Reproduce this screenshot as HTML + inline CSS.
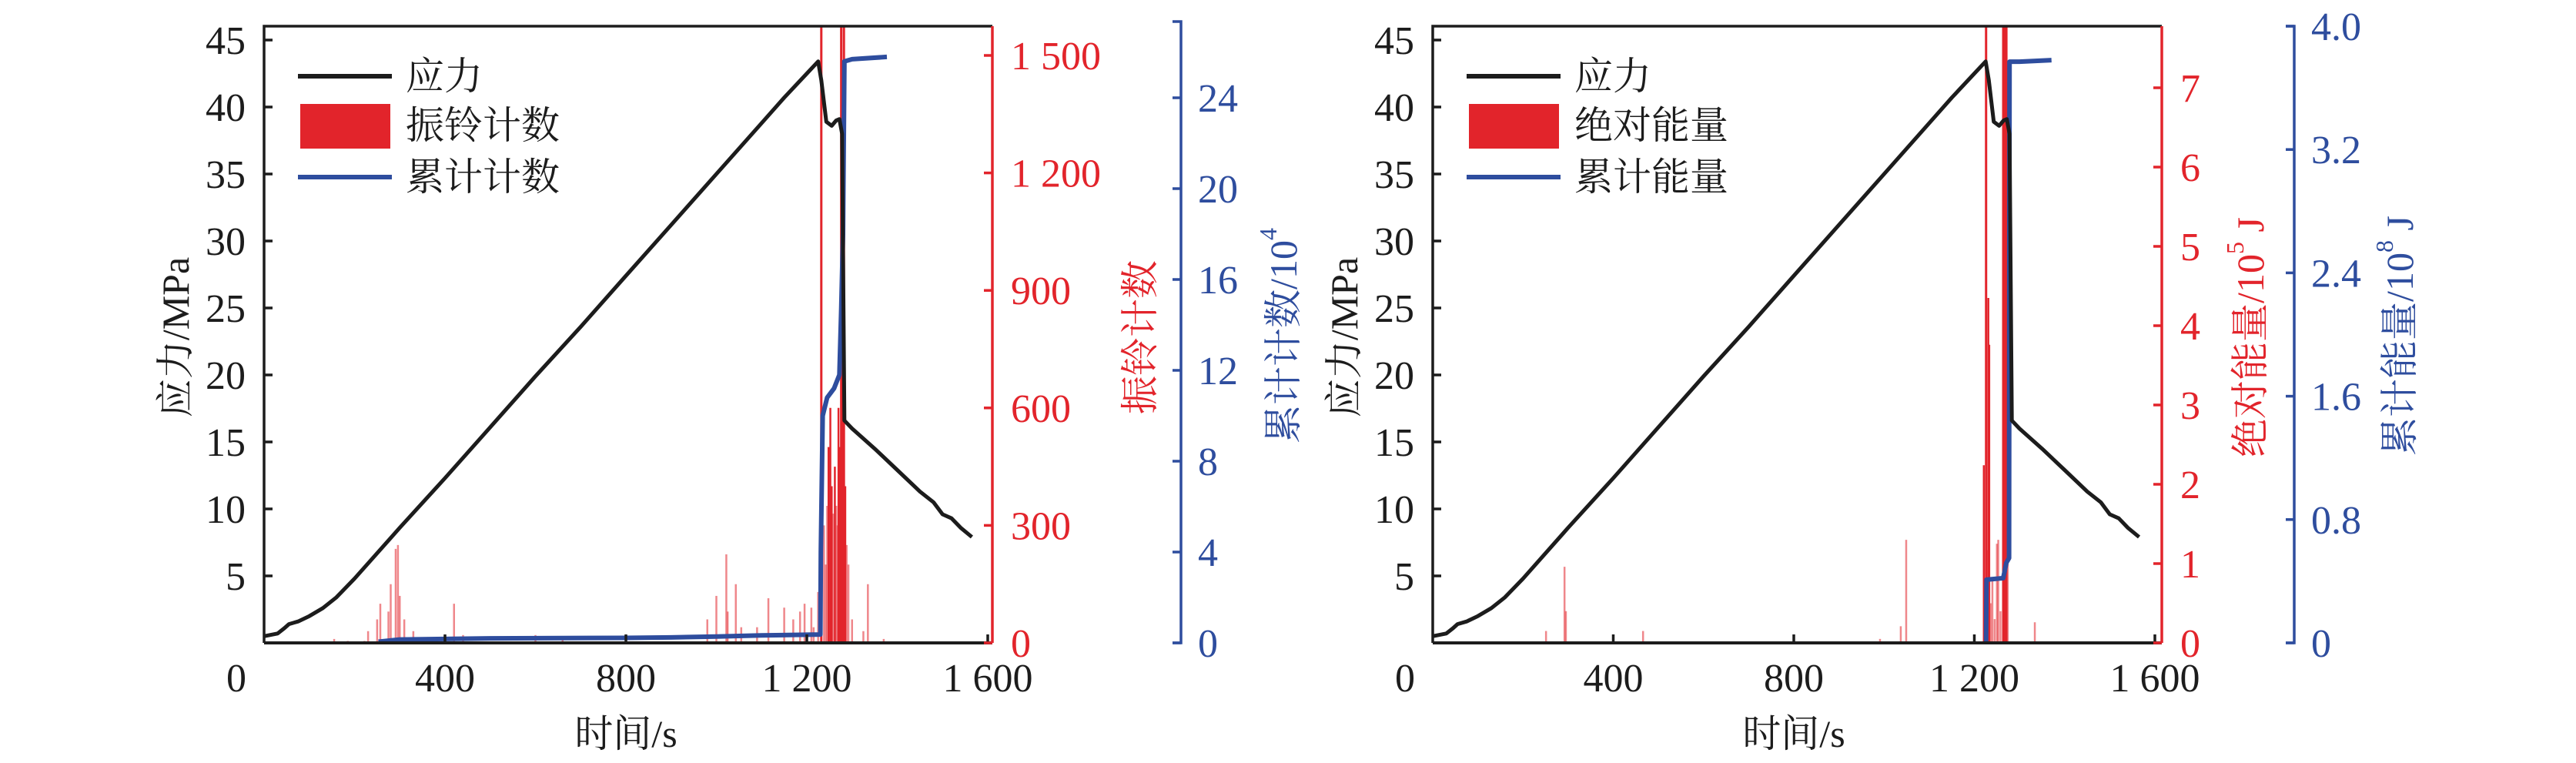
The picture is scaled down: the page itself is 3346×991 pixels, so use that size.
<!DOCTYPE html>
<html><head><meta charset="utf-8"><style>
html,body{margin:0;padding:0;background:#fff;}
svg{display:block;}
text{font-family:"Liberation Serif","Noto Serif CJK SC","Noto Sans CJK SC",serif;}
</style></head><body>
<svg id="chart" width="3346" height="991" viewBox="0 0 3346 991" xmlns="http://www.w3.org/2000/svg"></svg>
<script>
// ---- shared data ----
const stressTime = [0,15,30,45,55,75,100,130,160,200,300,400,500,600,700,800,900,1000,1100,1150,1200,1225,1232,1243,1255,1265,1272,1278,1283,1300,1350,1400,1450,1480,1500,1520,1540,1565];
const stressValue = [0.5,0.6,0.7,1.1,1.4,1.6,2.0,2.6,3.4,4.8,8.6,12.3,16.1,19.9,23.6,27.4,31.2,35.0,38.8,40.7,42.5,43.4,42.0,38.9,38.6,39.0,39.1,38.0,16.6,16.0,14.5,12.9,11.3,10.5,9.6,9.3,8.6,7.9];
// left panel: ring counts & cumulative counts (10^4)
const ringTime = [155,185,222,230,250,257,275,280,291,296,300,310,330,420,440,600,660,800,980,1000,1022,1025,1043,1055,1090,1115,1150,1170,1185,1195,1210,1215,1225,1232,1238,1242,1245,1248,1252,1255,1258,1262,1265,1268,1270,1273,1276,1278,1282,1285,1288,1292,1300,1325,1335,1370];
const ringValue = [10,5,5,30,60,100,80,150,240,250,120,60,30,100,20,20,10,15,60,120,226,80,150,40,40,114,90,60,80,100,90,40,130,1600,300,200,350,500,600,400,330,450,350,300,600,500,1600,700,1600,400,250,200,60,30,150,10];
const cumCountTime = [253,300,500,800,900,1000,1100,1200,1230,1231,1235,1245,1260,1272,1276,1280,1283,1300,1377];
const cumCountValue = [0.05,0.15,0.2,0.22,0.24,0.28,0.33,0.36,0.37,4.0,10.0,10.8,11.2,11.8,14.7,18.0,25.6,25.7,25.8];
// right panel: absolute energy (10^5 J) & cumulative energy (10^8 J)
const energyTime = [251,292,295,466,991,1037,1049,1221,1226,1229,1231,1233,1236,1240,1245,1250,1253,1258,1264,1268,1271,1274,1334];
const energyValue = [0.15,0.96,0.4,0.15,0.05,0.21,1.3,2.24,7.8,1.17,4.35,3.76,0.5,0.8,0.3,1.25,1.3,0.4,7.8,7.8,7.8,1.0,0.26];
const cumEnergyTime = [1226,1227,1264,1271,1277,1278,1300,1371];
const cumEnergyValue = [0,0.41,0.42,0.52,0.55,3.77,3.77,3.78];
// tick labels
const xTicks = [400,800,1200,1600];
const stressTicks = [5,10,15,20,25,30,35,40,45];
const ringTicks = [0,300,600,900,1200,1500];
const ringTickLabels = ["0","300","600","900","1 200","1 500"];
const cumCountTicks = [0,4,8,12,16,20,24];
const energyTicks = [0,1,2,3,4,5,6,7];
const cumEnergyTicks = [0,0.8,1.6,2.4,3.2,4.0];
const cumEnergyTickLabels = ["0","0.8","1.6","2.4","3.2","4.0"];

const NS = "http://www.w3.org/2000/svg";
const svg = document.getElementById('chart');
function mk(tag, attrs, parent){ const e=document.createElementNS(NS,tag); for(const k in attrs) e.setAttribute(k,attrs[k]); (parent||svg).appendChild(e); return e; }
const BLACK="#1c1c1c", RED="#e2242b", BLUE="#2e4d9e", FS=52;

function panel(p){
  const g = mk('g',{});
  
  
  const X = t => p.x0 + t*(p.x1600-p.x0)/1600;
  const YS = v => p.yb - v*p.stressPx;
  const YR = v => p.yb - v*(p.yb-p.redTopY)/p.redTopV;
  const YB = v => p.yb - v*(p.yb-p.blueTopY)/p.blueTopV;

  const bars = mk('g',{},g);
  
  
  p.barT.forEach((t,i)=>{
    const v=p.barV[i]; let y=Math.max(YR(v), p.top);
    const l=mk('line',{x1:X(t),x2:X(t),y1:p.yb,y2:y,stroke: v>p.redTopV*0.25? RED : 'rgba(226,36,43,0.55)','stroke-width': v>=p.redTopV? 3 : 2.5},bars);
    
    
  });
  let d=''; p.cumT.forEach((t,i)=>{ d+=(i?'L':'M')+X(t).toFixed(1)+','+YB(p.cumV[i]).toFixed(1); });
  const bl=mk('path',{d:d,fill:'none',stroke:BLUE,'stroke-width':6,'stroke-linejoin':'round'},g);
  
  
  d=''; stressTime.forEach((t,i)=>{ d+=(i?'L':'M')+X(t).toFixed(1)+','+YS(stressValue[i]).toFixed(1); });
  const sl=mk('path',{d:d,fill:'none',stroke:BLACK,'stroke-width':5,'stroke-linejoin':'round'},g);
  
  

  mk('path',{d:`M${p.x0},${p.yb}V${p.top}H${p.xr}`,fill:'none',stroke:BLACK,'stroke-width':3.5},g);
  mk('line',{x1:p.x0,x2:p.xr,y1:p.yb,y2:p.yb,stroke:BLACK,'stroke-width':4},g);
  const ra=mk('line',{x1:p.xr,x2:p.xr,y1:p.top,y2:p.yb,stroke:RED,'stroke-width':3.5},g);
  
  
  const ba=mk('path',{d:`M${p.xb-11},${p.blueAxisTop}H${p.xb}V${p.yb}H${p.xb-11}`,fill:'none',stroke:BLUE,'stroke-width':3.5},g);
  
  

  xTicks.forEach(t=>{
    mk('line',{x1:X(t),x2:X(t),y1:p.yb,y2:p.yb-11,stroke:BLACK,'stroke-width':3.5},g);
    const tx=mk('text',{x:X(t),y:898,'text-anchor':'middle','font-size':FS,fill:BLACK},g); tx.textContent=(t>=1000? String(t).replace(/^(\d)/,'$1 '):String(t));
    
    
  });
  const z=mk('text',{x:p.x0-36,y:898,'text-anchor':'middle','font-size':FS,fill:BLACK},g); z.textContent='0';
  
  
  stressTicks.forEach(v=>{
    mk('line',{x1:p.x0,x2:p.x0+11,y1:YS(v),y2:YS(v),stroke:BLACK,'stroke-width':3.5},g);
    const tx=mk('text',{x:p.x0-24,y:YS(v)+18,'text-anchor':'end','font-size':FS,fill:BLACK},g); tx.textContent=v;
    
    
  });
  p.redTicks.forEach((v,i)=>{
    mk('line',{x1:p.xr-11,x2:p.xr,y1:YR(v),y2:YR(v),stroke:RED,'stroke-width':3.5},g);
    const tx=mk('text',{x:p.xr+24,y:YR(v)+18,'font-size':FS,fill:RED},g); tx.textContent=p.redLabels[i];
    
    
  });
  p.blueTicks.forEach((v,i)=>{
    mk('line',{x1:p.xb-11,x2:p.xb,y1:YB(v),y2:YB(v),stroke:BLUE,'stroke-width':3.5},g);
    const tx=mk('text',{x:p.xb+22,y:YB(v)+18,'font-size':FS,fill:BLUE},g); tx.textContent=p.blueLabels[i];
    
    
  });
  function rot(x,y,col,html,name){ const t=mk('text',{transform:`translate(${x},${y}) rotate(-90)`,'text-anchor':'middle','dominant-baseline':'central','font-size':50,fill:col},g); t.innerHTML=html;   }
  rot(p.x0-115,438,BLACK,'应力/MPa','y-axis-title-stress');
  rot(p.redTitleX,438,RED,p.redTitle,'y-axis-title-red');
  rot(p.blueTitleX,436,BLUE,p.blueTitle,'y-axis-title-blue');
  const xt=mk('text',{x:(p.x0+p.x1600)/2,y:970,'text-anchor':'middle','font-size':50,fill:BLACK},g); xt.textContent='时间/s';
  
  
  const lg=mk('g',{},g);
  
  
  const lx=p.x0+44;
  mk('line',{x1:lx,x2:lx+122,y1:99,y2:99,stroke:BLACK,'stroke-width':6},lg);
  mk('rect',{x:lx+3,y:135,width:117,height:58,fill:RED},lg);
  mk('line',{x1:lx,x2:lx+122,y1:230,y2:230,stroke:BLUE,'stroke-width':6},lg);
  [['应力',99],[p.leg2,163],[p.leg3,230]].forEach(a=>{ const t=mk('text',{x:lx+140,y:a[1],'dominant-baseline':'central','font-size':50,fill:BLACK},lg); t.textContent=a[0];   });
}

panel({name:'left-panel-ring-count',x0:343,x1600:1283,xr:1289,xb:1534,top:34,yb:835,stressPx:17.4,
  redTopY:72,redTopV:1500,blueTopY:127,blueTopV:24,blueAxisTop:28,
  barT:ringTime,barV:ringValue,cumT:cumCountTime,cumV:cumCountValue,
  redTicks:ringTicks,redLabels:ringTickLabels,blueTicks:cumCountTicks,blueLabels:cumCountTicks.map(String),
  redTitleX:1481,blueTitleX:1667,redTitle:'振铃计数',blueTitle:'累计计数/10<tspan font-size="32" dy="-20">4</tspan>',
  leg2:'振铃计数',leg3:'累计计数'});
panel({name:'right-panel-energy',x0:1861,x1600:2799,xr:2808,xb:2980,top:34,yb:835,stressPx:17.4,
  redTopY:114,redTopV:7,blueTopY:34,blueTopV:4,blueAxisTop:34,
  barT:energyTime,barV:energyValue,cumT:cumEnergyTime,cumV:cumEnergyValue,
  redTicks:energyTicks,redLabels:energyTicks.map(String),blueTicks:cumEnergyTicks,blueLabels:cumEnergyTickLabels,
  redTitleX:2923,blueTitleX:3117,redTitle:'绝对能量/10<tspan font-size="32" dy="-20">5</tspan><tspan dy="20"> J</tspan>',blueTitle:'累计能量/10<tspan font-size="32" dy="-20">8</tspan><tspan dy="20"> J</tspan>',
  leg2:'绝对能量',leg3:'累计能量'});
</script>
</body></html>
